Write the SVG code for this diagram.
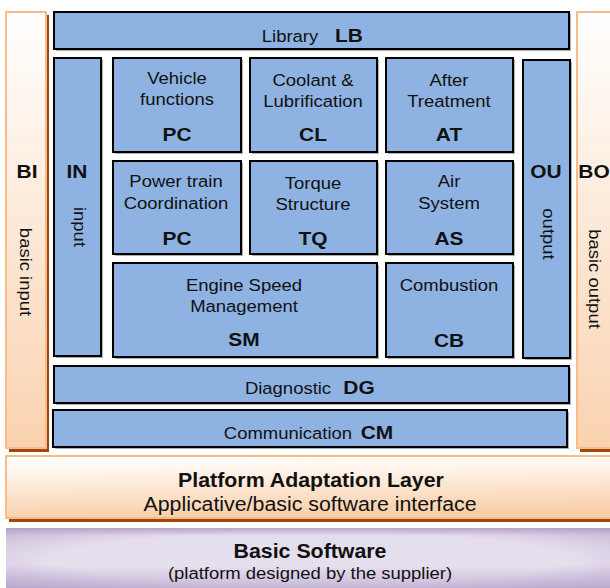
<svg xmlns="http://www.w3.org/2000/svg" width="610" height="588" viewBox="0 0 610 588">
  <defs>
    <linearGradient id="peachV" x1="0" y1="0" x2="0" y2="1">
      <stop offset="0" stop-color="#FFFFFF"/>
      <stop offset="1" stop-color="#FAD2AF"/>
    </linearGradient>
    <linearGradient id="peachBar" x1="0" y1="0" x2="0.15" y2="1">
      <stop offset="0" stop-color="#FFFFFF"/>
      <stop offset="0.25" stop-color="#FFF6EE"/>
      <stop offset="1" stop-color="#F9CFAA"/>
    </linearGradient>
    <linearGradient id="lilac" x1="0" y1="0" x2="0" y2="1">
      <stop offset="0" stop-color="#BCA9CF"/>
      <stop offset="0.12" stop-color="#E4DDEC"/>
      <stop offset="0.6" stop-color="#E6E0EE"/>
      <stop offset="1" stop-color="#C4B5D6"/>
    </linearGradient>
    <radialGradient id="lilacSide" cx="0.5" cy="0.5" r="0.7">
      <stop offset="0.6" stop-color="#B09CC6" stop-opacity="0"/>
      <stop offset="1" stop-color="#B09CC6" stop-opacity="0.6"/>
    </radialGradient>
  </defs>
  <style>
    .blk { fill: #8EB3E2; stroke: #000000; stroke-width: 2; }
    .shd { fill: #B0B0B0; }
    .side { fill: url(#peachV); stroke: #F8BC8A; stroke-width: 2; }
    .brown { fill: #A0480C; }
    text { font-family: "Liberation Sans", Arial, sans-serif; fill: #111111; text-anchor: middle; }
    .t { font-size: 16.8px; }
    .b { font-size: 19px; font-weight: bold; }
    .big { font-size: 19.4px; }
    .bigb { font-size: 19.4px; font-weight: bold; }
  </style>

  <!-- side panels -->
  <g id="BI">
    <rect class="brown" x="9" y="15" width="40" height="437"/>
    <rect class="side" x="6" y="12" width="40" height="436"/>
    <text class="b" transform="translate(27,178) scale(1.1,1)">BI</text>
    <text class="t" transform="translate(20,272) rotate(90) scale(1.1,1)">basic input</text>
  </g>
  <g id="BO">
    <rect class="brown" x="580" y="15" width="40" height="437"/>
    <rect class="side" x="577" y="12" width="40" height="436"/>
    <text class="b" transform="translate(594,178) scale(1.1,1)">BO</text>
    <text class="t" transform="translate(589,279) rotate(90) scale(1.1,1)">basic output</text>
  </g>

  <!-- horizontal bars -->
  <g id="LB">
    <rect class="shd" x="56" y="14" width="515" height="37"/>
    <rect class="blk" x="54" y="12" width="515" height="37"/>
    <text class="t" transform="translate(290,42) scale(1.1,1)">Library</text>
    <text class="b" transform="translate(349,42) scale(1.1,1)">LB</text>
  </g>
  <g id="DG">
    <rect class="shd" x="56" y="368" width="515" height="37"/>
    <rect class="blk" x="54" y="366" width="515" height="37"/>
    <text class="t" transform="translate(288,394) scale(1.1,1)">Diagnostic</text>
    <text class="b" transform="translate(359,394) scale(1.1,1)">DG</text>
  </g>
  <g id="CM">
    <rect class="shd" x="55" y="412" width="514" height="37"/>
    <rect class="blk" x="53" y="410" width="514" height="37"/>
    <text class="t" transform="translate(288,439) scale(1.1,1)">Communication</text>
    <text class="b" transform="translate(377,439) scale(1.1,1)">CM</text>
  </g>

  <!-- vertical input / output bars -->
  <g id="IN">
    <rect class="shd" x="56" y="60" width="47" height="298"/>
    <rect class="blk" x="54" y="58" width="47" height="298"/>
    <text class="b" transform="translate(77,178) scale(1.1,1)">IN</text>
    <text class="t" transform="translate(74,227) rotate(90) scale(1.1,1)">input</text>
  </g>
  <g id="OU">
    <rect class="shd" x="525" y="62" width="47" height="298"/>
    <rect class="blk" x="523" y="60" width="47" height="298"/>
    <text class="b" transform="translate(546,178) scale(1.1,1)">OU</text>
    <text class="t" transform="translate(543,234) rotate(90) scale(1.1,1)">output</text>
  </g>

  <!-- function blocks, row 1 -->
  <g id="PC1">
    <rect class="shd" x="115" y="60" width="128" height="94"/>
    <rect class="blk" x="113" y="58" width="128" height="94"/>
    <text class="t" transform="translate(177,84) scale(1.1,1)">Vehicle</text>
    <text class="t" transform="translate(177,105) scale(1.1,1)">functions</text>
    <text class="b" transform="translate(177,141) scale(1.1,1)">PC</text>
  </g>
  <g id="CL">
    <rect class="shd" x="252" y="60" width="127" height="94"/>
    <rect class="blk" x="250" y="58" width="127" height="94"/>
    <text class="t" transform="translate(313,86) scale(1.1,1)">Coolant &amp;</text>
    <text class="t" transform="translate(313,107) scale(1.1,1)">Lubrification</text>
    <text class="b" transform="translate(313,141) scale(1.1,1)">CL</text>
  </g>
  <g id="AT">
    <rect class="shd" x="388" y="60" width="127" height="94"/>
    <rect class="blk" x="386" y="58" width="127" height="94"/>
    <text class="t" transform="translate(449,86) scale(1.1,1)">After</text>
    <text class="t" transform="translate(449,107) scale(1.1,1)">Treatment</text>
    <text class="b" transform="translate(449,141) scale(1.1,1)">AT</text>
  </g>

  <!-- function blocks, row 2 -->
  <g id="PC2">
    <rect class="shd" x="115" y="163" width="128" height="93"/>
    <rect class="blk" x="113" y="161" width="128" height="93"/>
    <text class="t" transform="translate(176,187) scale(1.1,1)">Power train</text>
    <text class="t" transform="translate(176,209) scale(1.1,1)">Coordination</text>
    <text class="b" transform="translate(177,245) scale(1.1,1)">PC</text>
  </g>
  <g id="TQ">
    <rect class="shd" x="252" y="163" width="127" height="93"/>
    <rect class="blk" x="250" y="161" width="127" height="93"/>
    <text class="t" transform="translate(313,189) scale(1.1,1)">Torque</text>
    <text class="t" transform="translate(313,210) scale(1.1,1)">Structure</text>
    <text class="b" transform="translate(313,245) scale(1.1,1)">TQ</text>
  </g>
  <g id="AS">
    <rect class="shd" x="388" y="163" width="127" height="93"/>
    <rect class="blk" x="386" y="161" width="127" height="93"/>
    <text class="t" transform="translate(449,187) scale(1.1,1)">Air</text>
    <text class="t" transform="translate(449,209) scale(1.1,1)">System</text>
    <text class="b" transform="translate(449,245) scale(1.1,1)">AS</text>
  </g>

  <!-- function blocks, row 3 -->
  <g id="SM">
    <rect class="shd" x="115" y="265" width="264" height="94"/>
    <rect class="blk" x="113" y="263" width="264" height="94"/>
    <text class="t" transform="translate(244,291) scale(1.1,1)">Engine Speed</text>
    <text class="t" transform="translate(244,312) scale(1.1,1)">Management</text>
    <text class="b" transform="translate(244,346) scale(1.1,1)">SM</text>
  </g>
  <g id="CB">
    <rect class="shd" x="388" y="265" width="127" height="94"/>
    <rect class="blk" x="386" y="263" width="127" height="94"/>
    <text class="t" transform="translate(449,291) scale(1.1,1)">Combustion</text>
    <text class="b" transform="translate(449,347) scale(1.1,1)">CB</text>
  </g>

  <!-- software layers -->
  <g id="PAL">
    <rect class="brown" x="9" y="459" width="610" height="63"/>
    <rect x="6" y="456" width="610" height="62" fill="url(#peachBar)" stroke="#F8BC8A" stroke-width="2"/>
    <text class="bigb" transform="translate(311,487) scale(1.1,1)">Platform Adaptation Layer</text>
    <text class="big" transform="translate(310,511) scale(1.1,1)">Applicative/basic software interface</text>
  </g>
  <g id="BSW">
    <rect x="6" y="528" width="610" height="62" fill="url(#lilac)"/>
    <rect x="6" y="528" width="610" height="62" fill="url(#lilacSide)"/>
    <text class="bigb" transform="translate(310,558) scale(1.1,1)">Basic Software</text>
    <text class="t" transform="translate(310,579) scale(1.1,1)">(platform designed by the supplier)</text>
  </g>
</svg>
